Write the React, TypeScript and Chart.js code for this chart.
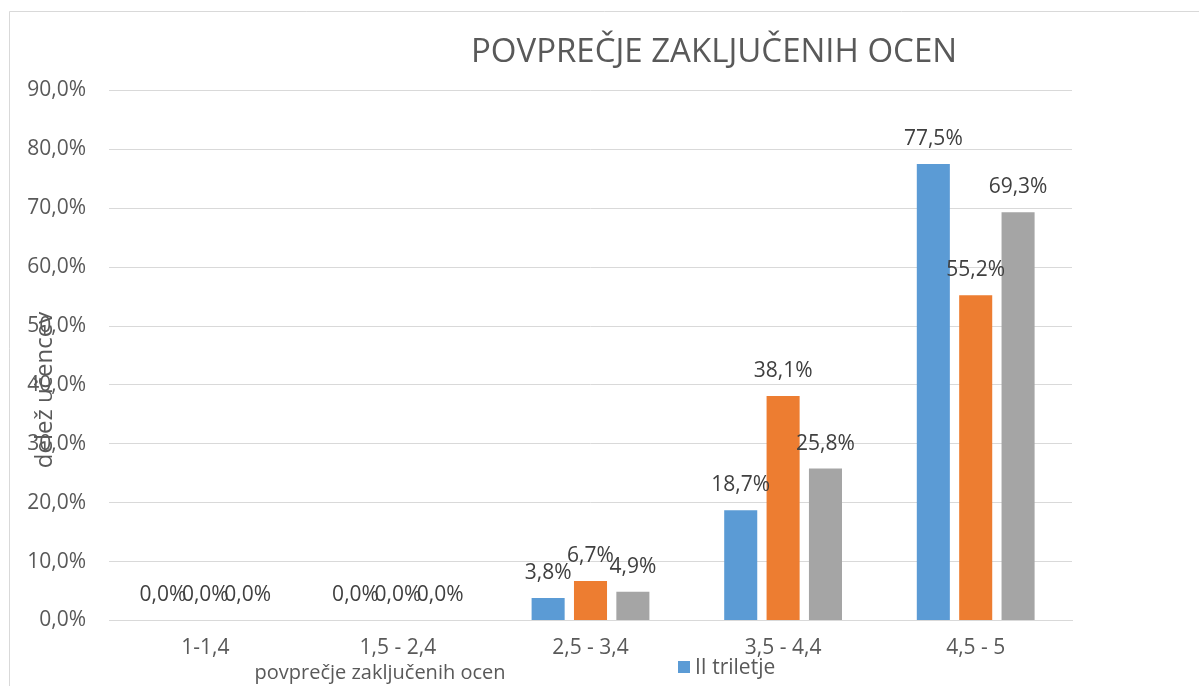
import React, { useEffect, useRef } from "react";
import { Chart, registerables } from "chart.js";

Chart.register(...registerables);

const categories = ["1-1,4", "1,5 - 2,4", "2,5 - 3,4", "3,5 - 4,4", "4,5 - 5"];
const seriesBlue = [0, 0, 3.8, 18.7, 77.5];
const seriesOrange = [0, 0, 6.7, 38.1, 55.2];
const seriesGray = [0, 0, 4.9, 25.8, 69.3];
const seriesLabels = ["II triletje", "", ""];
const chartTitle = "POVPREČJE ZAKLJUČENIH OCEN";
const xAxisTitle = "povprečje zaključenih ocen";
const yAxisTitle = "delež učencev";
const yMin = 0;
const yMax = 90;
const yStep = 10;

const W = 1199;
const H = 686;
const FONT = "'Open Sans', sans-serif";
const TEXT = "#595959";
const LABEL = "#404040";
const GRID = "#d9d9d9";
const COLORS = ["#5b9bd5", "#ed7d31", "#a5a5a5"];

const fmt = (v: number) => v.toFixed(1).replace(".", ",") + "%";

const decorations = {
  id: "decorations",
  beforeDraw(chart: any) {
    const ctx = chart.ctx;
    ctx.save();
    ctx.fillStyle = "#ffffff";
    ctx.fillRect(0, 0, W, H);
    ctx.strokeStyle = GRID;
    ctx.lineWidth = 1;
    ctx.beginPath();
    ctx.moveTo(9.5, H);
    ctx.lineTo(9.5, 11.5);
    ctx.lineTo(W, 11.5);
    ctx.stroke();
    ctx.restore();
  },
  afterDatasetsDraw(chart: any) {
    const ctx = chart.ctx;
    ctx.save();
    ctx.font = `21px ${FONT}`;
    ctx.fillStyle = LABEL;
    ctx.textAlign = "center";
    ctx.textBaseline = "middle";
    chart.data.datasets.forEach((ds: any, i: number) => {
      const meta = chart.getDatasetMeta(i);
      meta.data.forEach((el: any, j: number) => {
        ctx.fillText(fmt(ds.data[j]), el.x, el.y - 25);
      });
    });
    ctx.restore();
  },
  afterDraw(chart: any) {
    const ctx = chart.ctx;
    ctx.save();
    // title
    ctx.fillStyle = TEXT;
    ctx.font = `33px ${FONT}`;
    ctx.textAlign = "center";
    ctx.textBaseline = "middle";
    ctx.fillText(chartTitle, 714, 53);
    // y axis title
    ctx.font = `24px ${FONT}`;
    ctx.save();
    ctx.translate(45, 390);
    ctx.rotate(-Math.PI / 2);
    ctx.fillText(yAxisTitle, 0, 0);
    ctx.restore();
    // x axis title
    ctx.font = `20px ${FONT}`;
    ctx.fillText(xAxisTitle, 380, 673);
    // legend (only the first series is shown)
    ctx.fillStyle = COLORS[0];
    ctx.fillRect(678, 661, 12, 12);
    ctx.fillStyle = TEXT;
    ctx.textAlign = "left";
    ctx.font = `21px ${FONT}`;
    ctx.fillText(seriesLabels[0], 695, 668);
    ctx.restore();
  },
};

export default function App() {
  const ref = useRef<HTMLCanvasElement | null>(null);
  useEffect(() => {
    if (!ref.current) return;
    const chart = new Chart(ref.current, {
      type: "bar",
      data: {
        labels: categories,
        datasets: [seriesBlue, seriesOrange, seriesGray].map((d, i) => ({
          label: seriesLabels[i],
          data: d,
          backgroundColor: COLORS[i],
          borderWidth: 0,
          categoryPercentage: 0.66,
          barPercentage: 0.78,
        })),
      },
      options: {
        responsive: false,
        animation: false,
        devicePixelRatio: 1,
        layout: { padding: { top: 90.4, right: 127, left: 0, bottom: 0 } },
        plugins: {
          legend: { display: false },
          title: { display: false },
          tooltip: { enabled: false },
        },
        scales: {
          x: {
            grid: { display: false, drawTicks: false },
            border: { display: true, color: GRID, width: 1 },
            ticks: { color: TEXT, font: { family: FONT, size: 21 }, padding: 15 },
            afterFit: (s: any) => {
              s.height = H - 620.5;
            },
          },
          y: {
            min: yMin,
            max: yMax,
            grid: { color: GRID, drawTicks: false, lineWidth: 1 },
            border: { display: false },
            ticks: {
              stepSize: yStep,
              color: TEXT,
              font: { family: FONT, size: 21 },
              padding: 23,
              callback: (v: any) => fmt(Number(v)),
            },
            afterFit: (s: any) => {
              s.width = 109;
            },
          },
        },
      },
      plugins: [decorations],
    });
    return () => chart.destroy();
  }, []);
  return (
    <div style={{ position: "fixed", left: 0, top: 0, width: W, height: H, background: "#fff" }}>
      <canvas ref={ref} width={W} height={H} style={{ display: "block", width: W, height: H }} />
    </div>
  );
}
